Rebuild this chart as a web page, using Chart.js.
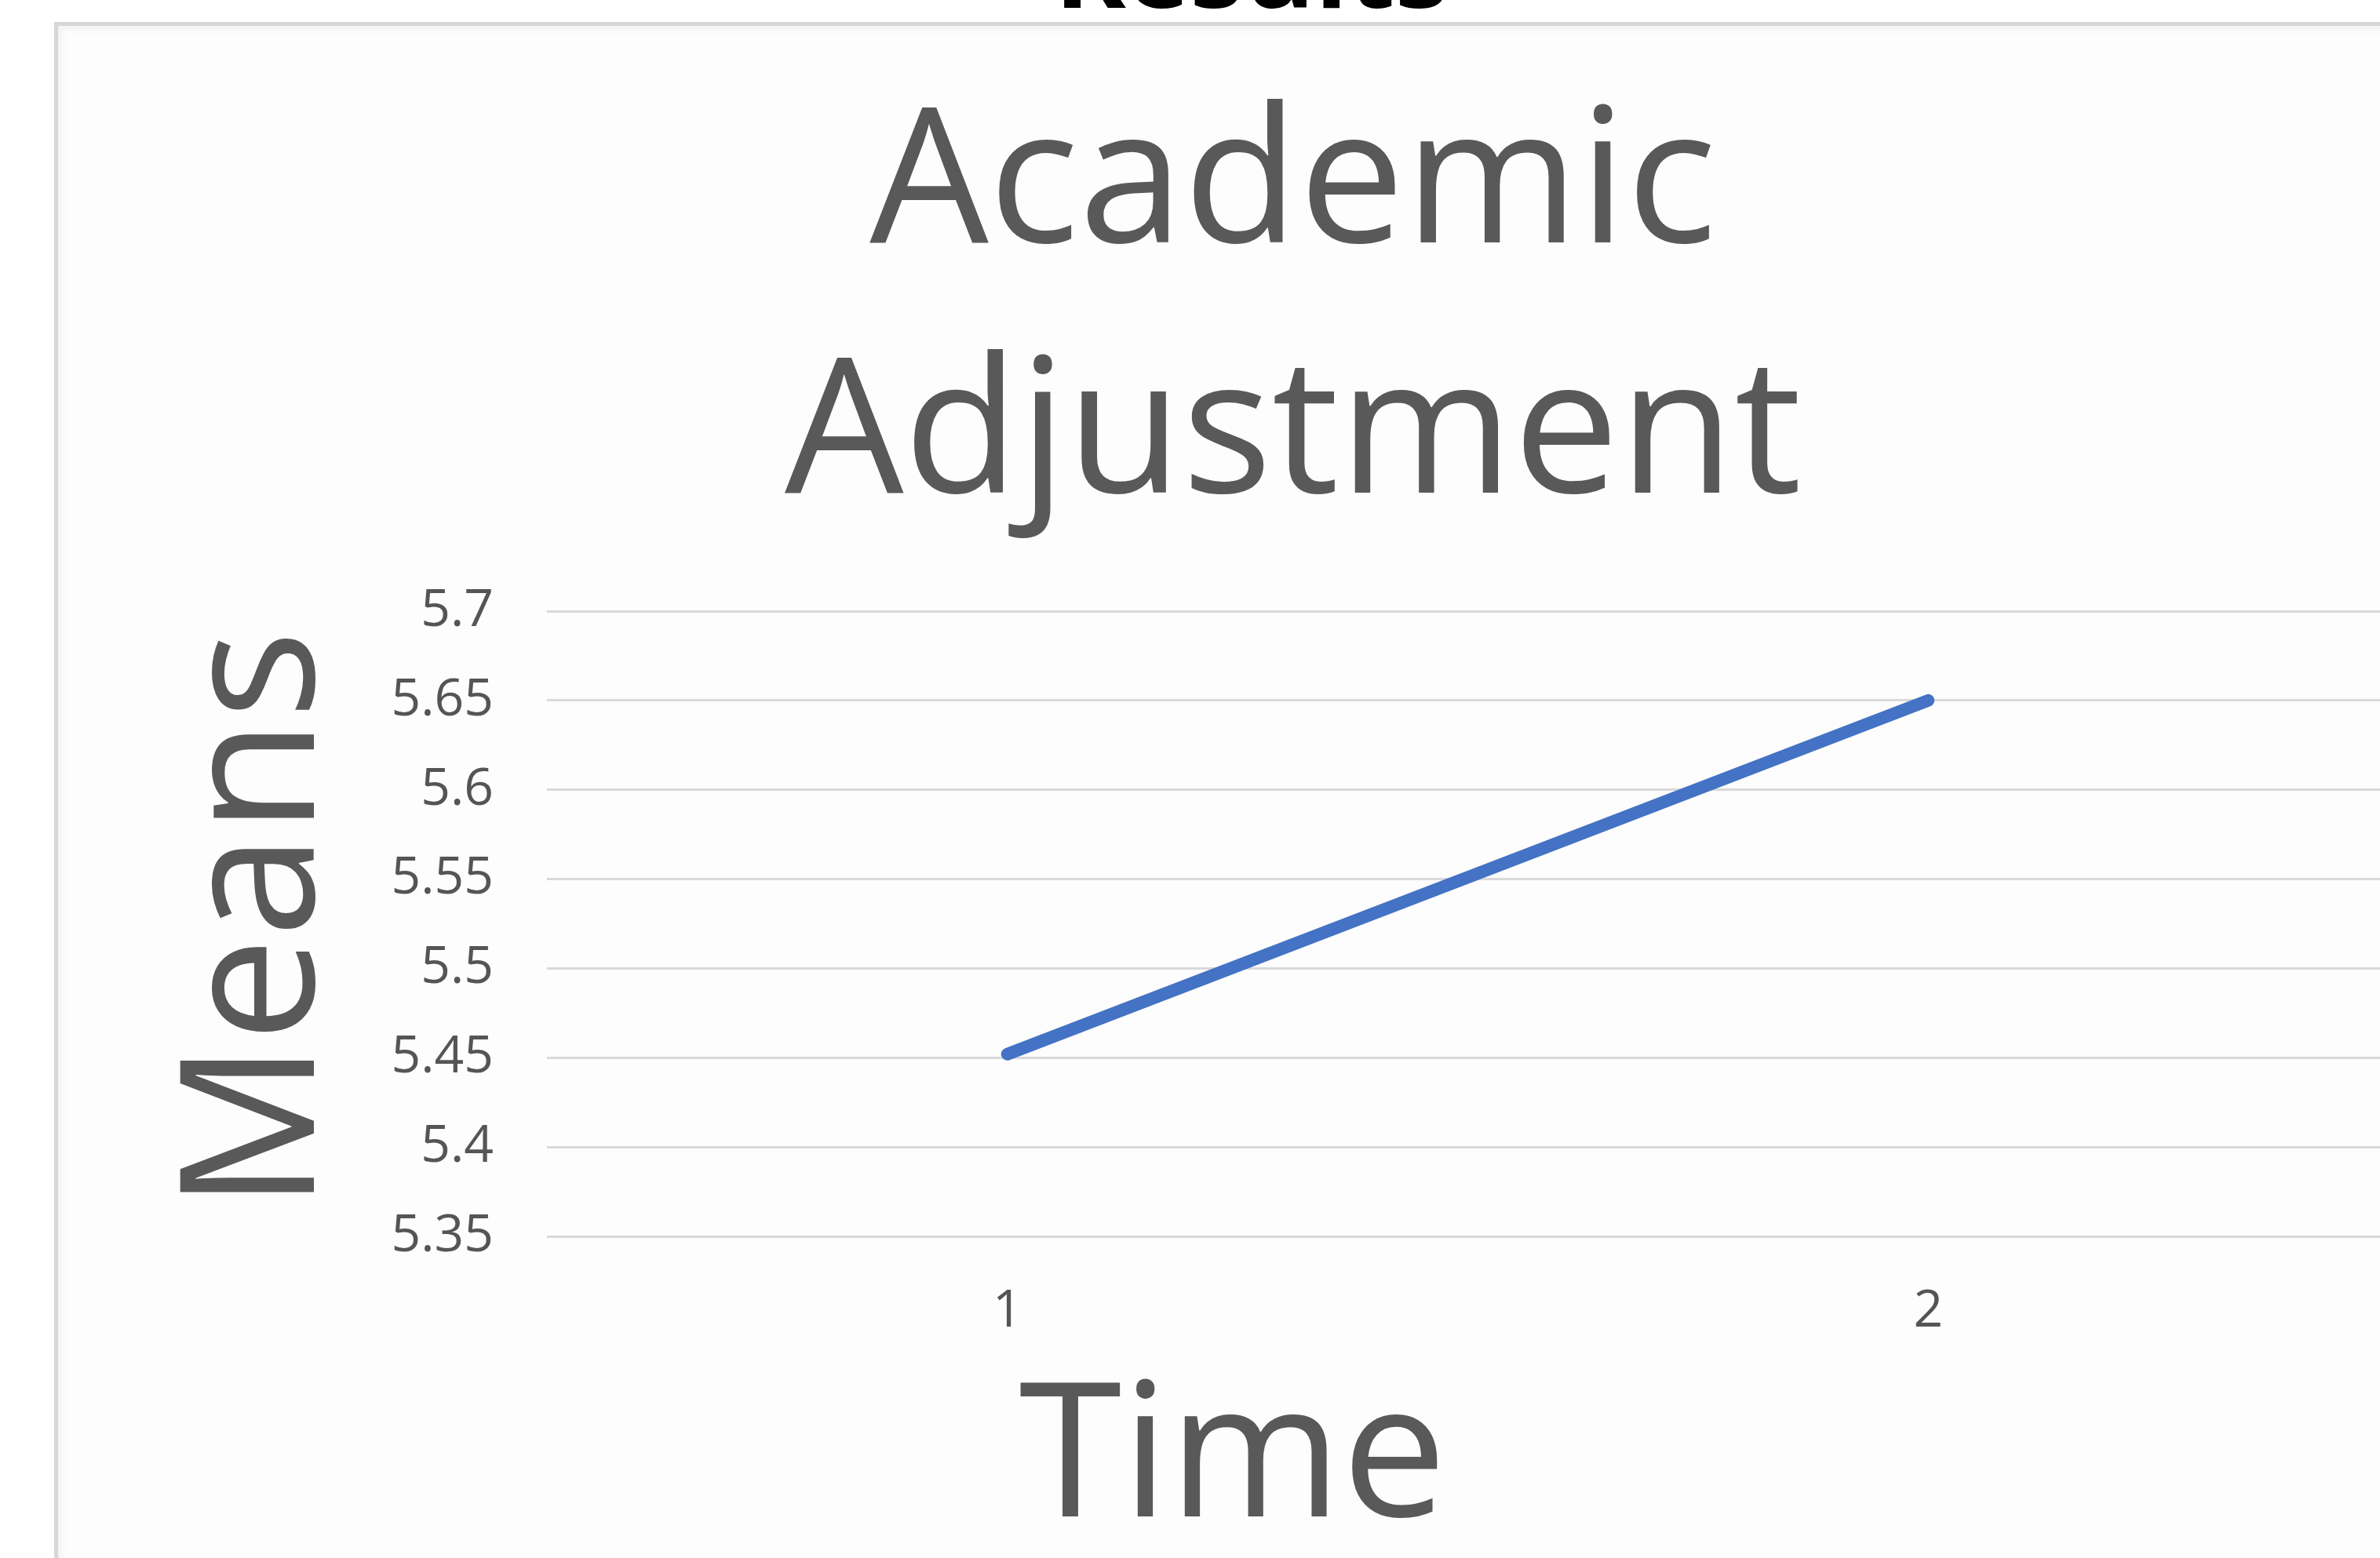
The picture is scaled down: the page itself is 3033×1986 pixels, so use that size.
<!DOCTYPE html>
<html>
<head>
<meta charset="utf-8">
<script src="https://cdn.jsdelivr.net/npm/chart.js@4.4.0/dist/chart.umd.min.js"></script>
<style>
  html, body { margin: 0; padding: 0; width: 3033px; height: 1986px; overflow: hidden; background: #ffffff; }
  #frame {
    position: absolute; left: 69px; top: 28px; width: 3100px; height: 2100px;
    box-sizing: border-box;
    border-left: 5px solid #d6d6d6; border-top: 5px solid #d6d6d6;
    background: #fdfdfd;
    box-shadow: inset 8px 8px 10px -4px rgba(0, 0, 0, 0.05);
  }
  #wrap { position: absolute; left: 0; top: 0; width: 3060px; height: 1986px; }
</style>
</head>
<body>
<div id="frame"></div>
<div id="wrap"><canvas id="c" width="3060" height="1986"></canvas></div>
<script>
// Time points and the mean score at each one
const categories = ['1', '2'];
const means = [5.452, 5.65];
const yTicks = [5.35, 5.4, 5.45, 5.5, 5.55, 5.6, 5.65, 5.7];

const headingText = 'Results';
const titleLines = ['Academic', 'Adjustment'];
const xTitle = 'Time';
const yTitle = 'Means';

const TEXT_GREY = '#595959';
const FONT = '"Open Sans", "Noto Sans", sans-serif';

// Slide heading, chart title and axis titles
const titlesPlugin = {
  id: 'titles',
  afterDraw(chart) {
    const ctx = chart.ctx;
    ctx.save();
    ctx.textAlign = 'center';
    ctx.textBaseline = 'alphabetic';

    ctx.fillStyle = '#000000';
    ctx.font = 'bold 138px ' + FONT;
    ctx.fillText(headingText, 1595, 10);

    ctx.fillStyle = TEXT_GREY;
    ctx.font = '240px ' + FONT;
    ctx.fillText(titleLines[0], 1648, 309);
    ctx.fillText(titleLines[1], 1648, 628);
    ctx.font = '238px ' + FONT;
    ctx.fillText(xTitle, 1571, 1933);

    ctx.translate(400, 1173);
    ctx.rotate(-Math.PI / 2);
    ctx.fillText(yTitle, 0, 0);
    ctx.restore();
  }
};

new Chart(document.getElementById('c'), {
  type: 'line',
  data: {
    labels: categories,
    datasets: [{
      data: means,
      borderColor: '#4472C4',
      borderWidth: 16,
      borderCapStyle: 'round',
      borderJoinStyle: 'round',
      pointRadius: 0,
      pointHoverRadius: 0,
      fill: false,
      tension: 0
    }]
  },
  options: {
    responsive: false,
    animation: false,
    devicePixelRatio: 1,
    layout: { padding: { top: 779, right: 16, bottom: 0, left: 0 } },
    plugins: {
      legend: { display: false },
      tooltip: { enabled: false },
      title: { display: false }
    },
    scales: {
      x: {
        type: 'category',
        offset: true,
        grid: { display: false },
        border: { display: false },
        ticks: {
          color: '#555555',
          font: { family: FONT, size: 66 },
          padding: 49
        },
        afterFit(scale) { scale.height = 410; }
      },
      y: {
        min: 5.35,
        max: 5.7,
        grid: { color: '#d9d9d9', lineWidth: 3, drawTicks: false },
        border: { display: false },
        afterBuildTicks(scale) { scale.ticks = yTicks.map(v => ({ value: v })); },
        ticks: {
          color: '#555555',
          font: { family: FONT, size: 66 },
          padding: 68,
          callback: v => String(Math.round(v * 100) / 100)
        },
        afterFit(scale) { scale.width = 697; }
      }
    }
  },
  plugins: [titlesPlugin]
});
</script>
</body>
</html>
